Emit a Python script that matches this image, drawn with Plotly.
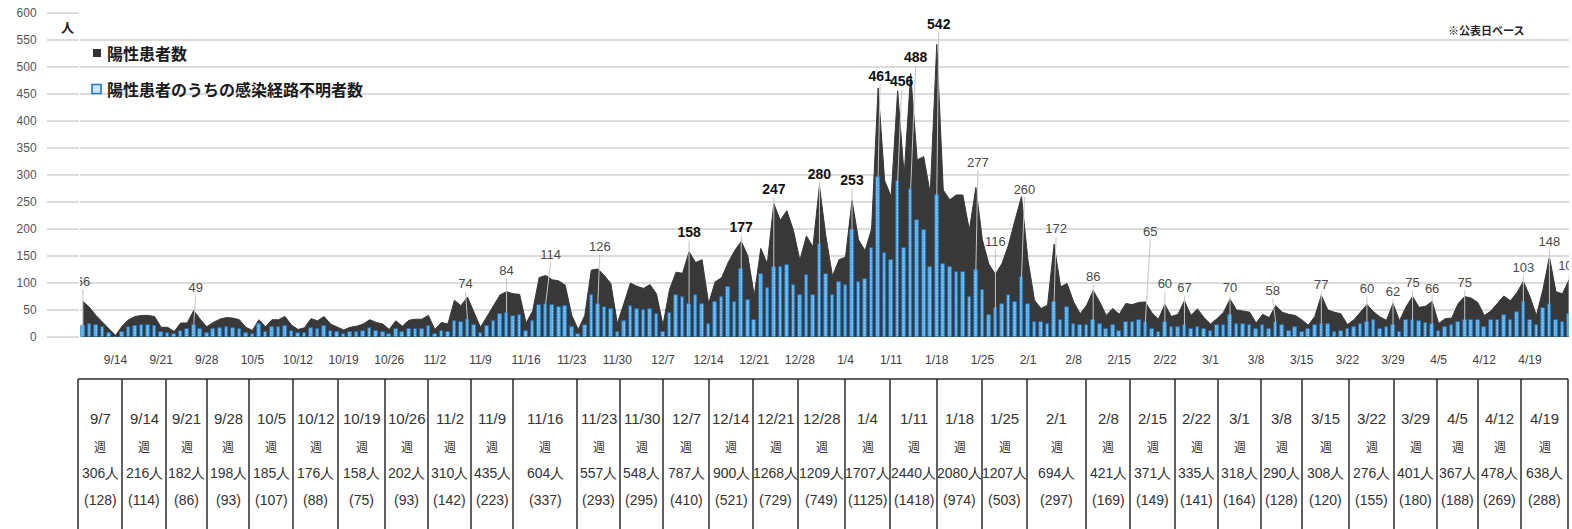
import pandas as pd
import plotly.graph_objects as go

# figure / plot-area geometry in pixels
W, H = 1572, 529
L, R, T, B = 80, 1569, 13, 337

# ---------------------------------------------------------------- data ----
days = pd.date_range("2020-09-09", "2021-04-25", freq="D")

# daily positives (dark area)
positives = [
    66, 55, 40, 28, 15,
    3, 20, 32, 38, 40, 40, 38,
    18, 18, 10, 26, 26, 49, 33,
    19, 27, 33, 36, 35, 32, 18,
    12, 32, 19, 32, 32, 38, 22,
    14, 17, 34, 30, 38, 24, 19,
    13, 18, 20, 24, 32, 27, 24,
    14, 30, 20, 31, 33, 33, 40,
    14, 27, 24, 68, 58, 74, 45,
    18, 38, 58, 78, 84, 80, 79,
    26, 48, 110, 114, 106, 104, 96,
    40, 14, 40, 124, 126, 114, 99,
    25, 62, 100, 94, 90, 97, 80,
    22, 88, 120, 118, 158, 138, 143,
    62, 102, 110, 138, 160, 177, 151,
    77, 164, 136, 247, 216, 234, 198,
    142, 187, 167, 280, 186, 113, 143,
    148, 253, 180, 160, 200, 461, 290,
    260, 456, 300, 488, 328, 334, 266,
    542, 272, 254, 263, 263, 198, 277,
    180, 135, 116, 136, 170, 216, 260,
    142, 68, 53, 59, 172, 93, 99,
    65, 43, 59, 86, 65, 40, 53,
    42, 62, 60, 64, 65, 45, 33,
    60, 38, 42, 67, 40, 52, 36,
    24, 34, 46, 70, 50, 48, 46,
    26, 42, 36, 58, 46, 42, 40,
    32, 22, 38, 77, 50, 46, 43,
    23, 32, 46, 60, 47, 37, 31,
    62, 30, 56, 75, 55, 57, 66,
    25, 34, 35, 62, 75, 72, 64,
    40, 48, 62, 76, 67, 82, 103,
    75, 40, 88, 148, 84, 80, 106,
]

# daily positives with unknown infection route (blue bars)
unknown = [
    20, 25, 22, 18, 8,
    0, 10, 18, 20, 22, 22, 20,
    10, 8, 5, 12, 14, 22, 15,
    8, 14, 16, 18, 16, 14, 7,
    6, 24, 10, 18, 18, 20, 11,
    7, 8, 17, 14, 20, 12, 10,
    6, 9, 10, 12, 16, 12, 10,
    6, 14, 9, 14, 15, 15, 20,
    6, 12, 10, 30, 28, 34, 22,
    8, 20, 30, 42, 45, 38, 40,
    12, 30, 60, 62, 60, 56, 57,
    18, 6, 22, 78, 62, 55, 52,
    10, 30, 58, 52, 50, 52, 43,
    10, 45, 78, 75, 62, 78, 62,
    25, 65, 74, 93, 65, 126, 68,
    31, 117, 90, 130, 130, 133, 96,
    77, 114, 77, 173, 117, 77, 102,
    96, 198, 102, 108, 164, 297, 155,
    142, 288, 164, 275, 216, 198, 130,
    263, 136, 130, 121, 121, 74, 124,
    87, 40, 53, 62, 77, 65, 111,
    62, 28, 28, 25, 65, 31, 56,
    25, 22, 22, 31, 25, 15, 22,
    12, 28, 28, 31, 28, 15, 9,
    28, 19, 19, 22, 15, 19, 15,
    12, 22, 22, 40, 25, 25, 22,
    15, 22, 15, 28, 22, 12, 19,
    9, 15, 22, 24, 25, 9, 12,
    15, 19, 25, 28, 31, 15, 19,
    22, 9, 32, 32, 30, 26, 24,
    12, 19, 22, 28, 31, 31, 32,
    19, 31, 31, 40, 31, 46, 65,
    31, 22, 53, 62, 31, 28, 43,
]

# weekly table
week_start = ["9/7", "9/14", "9/21", "9/28", "10/5", "10/12", "10/19", "10/26",
              "11/2", "11/9", "11/16", "11/23", "11/30", "12/7", "12/14", "12/21",
              "12/28", "1/4", "1/11", "1/18", "1/25", "2/1", "2/8", "2/15", "2/22",
              "3/1", "3/8", "3/15", "3/22", "3/29", "4/5", "4/12", "4/19"]
week_total = [306, 216, 182, 198, 185, 176, 158, 202, 310, 435, 604, 557, 548,
              787, 900, 1268, 1209, 1707, 2440, 2080, 1207, 694, 421, 371, 335,
              318, 290, 308, 276, 401, 367, 478, 638]
week_unknown = [128, 114, 86, 93, 107, 88, 75, 93, 142, 223, 337, 293, 295, 410,
                521, 729, 749, 1125, 1418, 974, 503, 297, 169, 149, 141, 164, 128,
                120, 155, 180, 188, 269, 288]

tick_days = pd.date_range("2020-09-14", "2021-04-19", freq="7D")

# points carrying a data label
label_days = ["2020-09-09", "2020-09-26", "2020-11-07", "2020-11-13", "2020-11-19",
              "2020-11-27", "2020-12-11", "2020-12-19", "2020-12-24", "2020-12-31",
              "2021-01-05", "2021-01-09", "2021-01-12", "2021-01-14", "2021-01-18",
              "2021-01-24", "2021-01-27", "2021-01-31", "2021-02-05", "2021-02-11",
              "2021-02-19", "2021-02-22", "2021-02-25", "2021-03-04", "2021-03-11",
              "2021-03-18", "2021-03-25", "2021-03-29", "2021-04-01", "2021-04-04",
              "2021-04-09", "2021-04-18", "2021-04-22", "2021-04-25"]
bold_days = {"2020-12-11", "2020-12-19", "2020-12-24", "2020-12-31", "2021-01-05",
             "2021-01-09", "2021-01-12", "2021-01-14", "2021-01-18"}

# ---------------------------------------------------------------- style ----
# label offsets (dx, dy) in px from the point
label_shift = {
    "2020-09-09": (0, 19), "2020-09-26": (2, 22), "2020-11-07": (-2, 12),
    "2020-11-13": (0, 20), "2020-11-19": (5, 20), "2020-11-27": (2, 21),
    "2020-12-11": (0, 18), "2020-12-19": (0, 13), "2020-12-24": (0, 13),
    "2020-12-31": (0, 10), "2021-01-05": (0, 19), "2021-01-09": (2, 11),
    "2021-01-12": (4, 8), "2021-01-14": (5, 15), "2021-01-18": (2, 19),
    "2021-01-24": (2, 24), "2021-01-27": (0, 32), "2021-01-31": (3, 6),
    "2021-02-05": (2, 14), "2021-02-11": (0, 13), "2021-02-19": (5, 69),
    "2021-02-22": (0, 20), "2021-02-25": (0, 12), "2021-03-04": (0, 10),
    "2021-03-11": (-3, 14), "2021-03-18": (0, 10), "2021-03-25": (0, 15),
    "2021-03-29": (0, 11), "2021-04-01": (0, 13), "2021-04-04": (0, 12),
    "2021-04-09": (0, 13), "2021-04-18": (0, 13), "2021-04-22": (0, 14),
    "2021-04-25": (0, 13),
}

# table column borders (px)
col_edges = [78, 122, 166, 207, 249, 293, 338, 385, 428, 471, 513, 577, 620, 663,
             709, 753, 798, 845, 890, 937, 982, 1027, 1086, 1130, 1175, 1218,
             1261, 1302, 1349, 1394, 1437, 1478, 1521, 1568]

NARROW = "Liberation Sans Narrow, Liberation Sans, Arial Narrow, sans-serif"
JP = "Noto Sans CJK JP, sans-serif"
DARK = "#383838"


def xp(x):
    return (x - L) / (R - L)


def yp(y):
    return (B - y) / (B - T)


x0 = days[0] - pd.Timedelta(days=0.445)
px_day = (R - L) / ((days[-1] - x0).total_seconds() / 86400)
px_unit = (B - T) / 600

s_pos = pd.Series(positives, index=days)
s_unk = pd.Series(unknown, index=days)

fig = go.Figure()

fig.add_trace(go.Scatter(
    x=days, y=positives, mode="lines", fill="tozeroy",
    line=dict(color=DARK, width=1), fillcolor=DARK,
    hoverinfo="skip", showlegend=False,
))

fig.add_trace(go.Bar(
    x=days, y=unknown, xaxis="x2", yaxis="y2",
    width=0.55 * 86400000,
    marker=dict(color="#55aeea", line=dict(color="#1d6fbf", width=0.7),
                pattern=dict(shape=".", fgcolor="#d6eefc", size=3, solidity=0.25)),
    hoverinfo="skip", showlegend=False,
))

# leader lines + data labels
lx, ly, lead_x, lead_y = [], [], [], []
for d in label_days:
    t = pd.Timestamp(d)
    v = s_pos[t]
    dx, dy = label_shift.get(d, (0, 12))
    tx = t + pd.Timedelta(days=dx / px_day)
    lx.append(tx)
    ly.append(v + dy / px_unit)
    lead_x += [t, tx, None]
    lead_y += [s_unk[t], v + (dy - 7) / px_unit, None]

fig.add_trace(go.Scatter(
    x=lead_x, y=lead_y, xaxis="x2", yaxis="y2", mode="lines",
    line=dict(color="#c4c4c4", width=1), hoverinfo="skip", showlegend=False,
))

for bold in (False, True):
    sel = [i for i, d in enumerate(label_days) if (d in bold_days) == bold]
    fig.add_trace(go.Scatter(
        x=[lx[i] for i in sel], y=[ly[i] for i in sel],
        text=[str(s_pos[pd.Timestamp(label_days[i])]) for i in sel],
        xaxis="x2", yaxis="y2", mode="text", textposition="middle center",
        textfont=dict(family=NARROW, size=14 if bold else 13,
                      color="#111111" if bold else "#4a4a4a",
                      weight="bold" if bold else "normal"),
        cliponaxis=True, hoverinfo="skip", showlegend=False,
    ))

shapes, ann = [], []

# legend
shapes.append(dict(type="rect", xref="paper", yref="paper",
                   x0=xp(93), x1=xp(101), y0=yp(57), y1=yp(49),
                   fillcolor="#333333", line=dict(width=0)))
shapes.append(dict(type="rect", xref="paper", yref="paper",
                   x0=xp(92), x1=xp(101), y0=yp(93.5), y1=yp(84.5),
                   fillcolor="#cfe7f8", line=dict(color="#1f78c8", width=1.6)))
ann.append(dict(text="陽性患者数", x=xp(105), y=yp(53), xanchor="left",
                yanchor="middle", font=dict(family=JP, size=16, color="#1a1a1a",
                                            weight="bold")))
ann.append(dict(text="陽性患者のうちの感染経路不明者数", x=xp(105), y=yp(89),
                xanchor="left", yanchor="middle",
                font=dict(family=JP, size=16, color="#1a1a1a", weight="bold")))
ann.append(dict(text="人", x=xp(67), y=yp(27), xanchor="center", yanchor="middle",
                font=dict(family=JP, size=13, color="#222222", weight="bold")))
ann.append(dict(text="※公表日ベース", x=xp(1486), y=yp(30), xanchor="center",
                yanchor="middle",
                font=dict(family=JP, size=11, color="#222222", weight="bold")))

# weekly table
line_c = dict(color="#2b2b2b", width=1.5)
shapes.append(dict(type="line", xref="paper", yref="paper", x0=xp(col_edges[0]),
                   x1=xp(col_edges[-1]), y0=yp(379), y1=yp(379), line=line_c))
for e in col_edges:
    shapes.append(dict(type="line", xref="paper", yref="paper", x0=xp(e), x1=xp(e),
                       y0=yp(379), y1=yp(535), line=line_c))

for k, wk in enumerate(week_start):
    cx = xp((col_edges[k] + col_edges[k + 1]) / 2)
    rows = [(wk, 418, 15), ("週", 446, 12), (f"{week_total[k]}人", 473, 14),
            (f"({week_unknown[k]})", 500, 14)]
    for txt, yy, fs in rows:
        ann.append(dict(text=txt, x=cx, y=yp(yy), xanchor="center",
                        yanchor="middle",
                        font=dict(family=NARROW if txt != "週" else JP, size=fs,
                                  color="#333333")))

for a in ann:
    a.update(xref="paper", yref="paper", showarrow=False)

fig.update_layout(
    width=W, height=H,
    margin=dict(l=L, r=W - R, t=T, b=H - B),
    paper_bgcolor="white", plot_bgcolor="white",
    bargap=0, showlegend=False,
    shapes=shapes, annotations=ann,
    xaxis=dict(type="date", range=[x0, days[-1]], tickvals=tick_days,
               ticktext=[f"{d.month}/{d.day}" for d in tick_days],
               showgrid=False, zeroline=False, showline=False, ticks="",
               ticklabelstandoff=14,
               tickfont=dict(family=NARROW, size=12, color="#404040")),
    yaxis=dict(range=[0, 600], tickvals=list(range(0, 601, 50)),
               showgrid=True, gridcolor="#dcdcdc", gridwidth=1.5,
               zeroline=False, showline=False,
               ticks="outside", ticklen=32, tickcolor="#dcdcdc", tickwidth=1.5,
               ticklabelstandoff=8,
               tickfont=dict(family=NARROW, size=12, color="#555555")),
    xaxis2=dict(type="date", overlaying="x", anchor="y2",
                range=[x0, days[-1]], visible=False),
    yaxis2=dict(overlaying="y", anchor="x2", range=[0, 600], visible=False),
)

# the page's default 8px body margin would shift the whole figure
fig.write_html("out.html",
               config={"displayModeBar": False},
               post_script="document.body.style.margin='0';"
                           "document.body.style.overflow='hidden';")
